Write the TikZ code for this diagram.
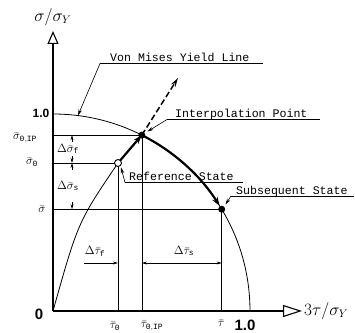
\documentclass[tikz,border=0pt]{standalone}
\usepackage{fontspec}
\setmonofont{Liberation Mono}
\setsansfont{Liberation Sans}
\usetikzlibrary{arrows.meta}
\begin{document}
\begin{tikzpicture}[x=1pt,y=1pt,
  thinline/.style={line width=0.8pt},
  guide/.style={line width=0.6pt},
  axisline/.style={line width=1.1pt},
  lbl/.style={font=\ttfamily\fontsize{11.6}{12}\selectfont, inner sep=0pt, anchor=base west},
  mlbl/.style={font=\fontsize{12}{12}\selectfont, inner sep=0pt},
  numlbl/.style={font=\sffamily\bfseries\fontsize{13}{13}\selectfont, inner sep=0pt},
  leader/.style={line width=0.6pt, -{Stealth[length=6pt,width=3.5pt]}},
  dimarrow/.style={line width=0.5pt, -{Stealth[length=5pt,width=2.8pt]}},
  heavy/.style={line width=2.2pt, -{Stealth[length=9pt,width=6pt]}},
  fulldot/.style={circle, fill=black, inner sep=0pt, minimum size=7pt},
  opendot/.style={circle, draw=black, fill=white, line width=0.9pt, inner sep=0pt, minimum size=7pt},
]
\useasboundingbox (0,0) rectangle (355,332);

% key points
\coordinate (O) at (53,21);
\coordinate (Ytop) at (53,218);
\coordinate (Xone) at (250,21);
\coordinate (IP) at (141.8,196.9);
\coordinate (RS) at (118,169);
\coordinate (SS) at (221.7,122.8);
\coordinate (Ytip) at (53,301);
\coordinate (Xtip) at (302,21);
\coordinate (Dtip) at (178,254);

% axes
\draw[axisline, -{Triangle[open,length=13pt,width=11pt]}] (O) -- (Ytip);
\draw[axisline, -{Triangle[open,length=19pt,width=12pt]}] (O) -- (Xtip);

% yield circle
\draw[thinline] (Ytop) arc[start angle=90, end angle=0, radius=197];

% guide lines
\draw[guide] (O |- IP) -- (IP);
\draw[guide] (O |- RS) -- (RS);
\draw[guide] (O |- SS) -- (SS);
\draw[guide] (IP) -- (IP |- O);
\draw[guide] (RS) -- (RS |- O);
\draw[guide] (SS) -- (SS |- O);

% loading path
\draw[thinline] (O) .. controls (78,110) .. (RS);
\draw[heavy] (RS) -- (IP);
\draw[line width=1.5pt, dash pattern=on 6pt off 3pt, -{Stealth[length=9pt,width=5pt]}] (IP) -- (Dtip);
\draw[heavy] (IP) arc[start angle=63.2, end angle=32.2, radius=197];

% points
\node[fulldot] (ipdot) at (IP) {};
\node[opendot] (rsdot) at (RS) {};
\node[fulldot] (ssdot) at (SS) {};

% axis labels
\node[font=\fontsize{16}{16}\selectfont, inner sep=0pt] (ylab) at (53,315) {$\sigma/\sigma_Y$};
\node[font=\fontsize{16}{16}\selectfont, inner sep=0pt, anchor=west] (xlab) at (304,21) {$3\tau/\sigma_Y$};
\node[numlbl, font=\sffamily\bfseries\fontsize{12}{12}\selectfont] (yone) at (41,219) {1.0};
\node[numlbl, font=\sffamily\bfseries\fontsize{15}{15}\selectfont] (zero) at (39,18) {0};
\node[numlbl, font=\sffamily\bfseries\fontsize{15}{15}\selectfont] (xone) at (245,7) {1.0};

% sigma labels
\node[mlbl] (sIP) at (25,194) {$\bar\sigma_{\mathtt{0,IP}}$};
\node[mlbl] (s0) at (32,170) {$\bar\sigma_{\mathtt{0}}$};
\node[mlbl] (sb) at (42,123) {$\bar\sigma$};
\node[mlbl] (dsf) at (68,183) {$\Delta\bar\sigma_{\mathtt{f}}$};
\node[mlbl] (dss) at (68,146) {$\Delta\bar\sigma_{\mathtt{s}}$};

% tau labels
\node[mlbl] (t0) at (115,6) {$\bar\tau_{\mathtt{0}}$};
\node[mlbl] (tIP) at (152,6) {$\bar\tau_{\mathtt{0,IP}}$};
\node[mlbl] (tb) at (221,9) {$\bar\tau$};
\node[mlbl] (dtf) at (95,81) {$\Delta\bar\tau_{\mathtt{f}}$};
\node[mlbl] (dts) at (184,81) {$\Delta\bar\tau_{\mathtt{s}}$};

% dimension arrows (sigma)
\coordinate (f1) at (72,190); \coordinate (f1t) at (72,196.9);
\coordinate (f2) at (72,176); \coordinate (f2t) at (72,169);
\coordinate (g1) at (72,162); \coordinate (g1t) at (72,169);
\coordinate (g2) at (72,130); \coordinate (g2t) at (72,122.8);
\draw[dimarrow] (f1) -- (f1t);
\draw[dimarrow] (f2) -- (f2t);
\draw[dimarrow] (g1) -- (g1t);
\draw[dimarrow] (g2) -- (g2t);

% dimension arrows (tau)
\coordinate (h0) at (84,69);
\draw[dimarrow] (h0) -- (RS |- h0);
\draw[line width=0.5pt, {Stealth[length=5pt,width=2.8pt]}-{Stealth[length=5pt,width=2.8pt]}] (IP |- h0) -- (SS |- h0);

% callouts
\node[lbl] (vm) at (110,270.5) {Von Mises Yield Line};
\coordinate (vmL) at (100,268.5); \coordinate (vmR) at (263,268.5);
\coordinate (vmT) at (78,216.6);
\draw[guide] (vmL) -- (vmR);
\draw[leader] (vmL) -- (vmT);

\node[lbl] (ipl) at (175,214.5) {Interpolation Point};
\coordinate (ipL) at (167,212.5); \coordinate (ipR) at (320,212.5);
\coordinate (ipT) at (147.5,200.5);
\draw[guide] (ipL) -- (ipR);
\draw[leader] (ipL) -- (ipT);

\node[lbl] (rsl) at (129,151.5) {Reference State};
\coordinate (rsL) at (125,149.5); \coordinate (rsR) at (243,149.5);
\coordinate (rsT) at (121,164.5);
\draw[guide] (rsL) -- (rsR);
\draw[leader] (rsL) -- (rsT);

\node[lbl] (ssl) at (236,138) {Subsequent State};
\coordinate (ssL) at (231,136); \coordinate (ssR) at (354,136);
\coordinate (ssT) at (225.5,127.5);
\draw[guide] (ssL) -- (ssR);
\draw[leader] (ssL) -- (ssT);
\end{tikzpicture}
\end{document}
